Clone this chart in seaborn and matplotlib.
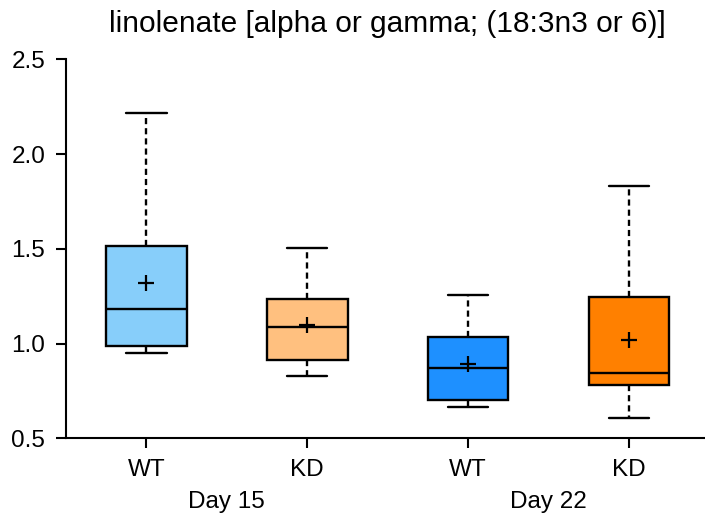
import pandas as pd
import numpy as np
import matplotlib
matplotlib.use("Agg")
import matplotlib.pyplot as plt
import seaborn as sns

# values (summary stats per box)
groups = ["D15 WT", "D15 KD", "D22 WT", "D22 KD"]
tick_labels = ["WT", "KD", "WT", "KD"]
day_labels = ["Day 15", "Day 22"]
lows = [0.949, 0.829, 0.664, 0.609]
q1s = [0.987, 0.912, 0.702, 0.780]
medians = [1.182, 1.086, 0.871, 0.845]
q3s = [1.516, 1.235, 1.033, 1.244]
highs = [2.218, 1.504, 1.255, 1.833]
means = [1.318, 1.098, 0.892, 1.019]
colors = ["#87CEFA", "#FFC07F", "#1E90FF", "#FF8000"]

# five summary values per group -> boxplot with whiskers at min/max
rows = []
for g, lo, a, m, b, hi in zip(groups, lows, q1s, medians, q3s, highs):
    for v in [lo, a, m, b, hi]:
        rows.append({"group": g, "value": v})
df = pd.DataFrame(rows)
mean_df = pd.DataFrame({"group": groups, "value": means})

sns.set_style("white")
plt.rcParams['font.family'] = ['Liberation Sans', 'DejaVu Sans']

fig = plt.figure(figsize=(7.05, 5.16), dpi=100)
ax = fig.add_axes([0.0936, 0.1506, 0.9128, 0.7345])

lw = 1.7
sns.boxplot(data=df, x="group", y="value", hue="group", order=groups,
            hue_order=groups, palette=colors, legend=False, whis=(0, 100),
            width=0.5, showfliers=False, linecolor="black", linewidth=lw,
            saturation=1, ax=ax,
            whiskerprops={"linestyle": (0, (2.6, 1.7))},
            medianprops={"color": "black", "linewidth": lw})

sns.stripplot(data=mean_df, x="group", y="value", order=groups, jitter=False,
              marker="+", color="black", size=11, linewidth=1.6, ax=ax)

ax.set_xlim(-0.5, 3.5)
ax.set_ylim(0.5, 2.5)
ax.set_yticks([0.5, 1.0, 1.5, 2.0, 2.5])
ax.set_yticklabels(["0.5", "1.0", "1.5", "2.0", "2.5"])
ax.set_xticks(range(len(groups)))
ax.set_xticklabels(tick_labels)
ax.set_xlabel("")
ax.set_ylabel("")
ax.tick_params(axis="both", labelsize=17.5, length=7, width=1.5,
               direction="out", color="black", labelcolor="black",
               left=True, bottom=True)
ax.tick_params(axis="y", pad=8)
ax.tick_params(axis="x", pad=8)
for side in ["top", "right"]:
    ax.spines[side].set_visible(False)
for side in ["left", "bottom"]:
    ax.spines[side].set_color("black")
    ax.spines[side].set_linewidth(1.5)

for i, lab in enumerate(day_labels):
    ax.annotate(lab, xy=(2 * i + 0.5, 0), xycoords=("data", "axes fraction"),
                xytext=(0, -38), textcoords="offset points",
                ha="center", va="top", fontsize=17.5, color="black")

ax.set_title("linolenate [alpha or gamma; (18:3n3 or 6)]", fontsize=21.5,
             pad=20, color="black")

fig.savefig("out.png", dpi=100)
